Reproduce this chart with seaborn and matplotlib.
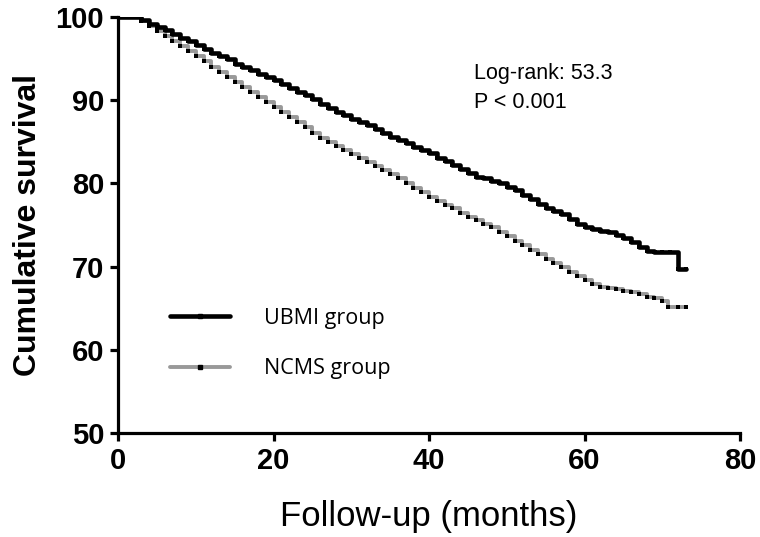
import matplotlib
matplotlib.use("Agg")
import matplotlib.pyplot as plt
import seaborn as sns
import pandas as pd
from matplotlib.lines import Line2D

# ---- data ----
ubmi_months = [0, 3, 4, 5, 6, 7, 8, 9, 10, 11, 12, 13, 14, 15, 16, 17, 18, 19, 20,
               21, 22, 23, 24, 25, 26, 27, 28, 29, 30, 31, 32, 33, 34, 35, 36, 37, 38, 39, 40,
               41, 42, 43, 44, 45, 46, 47, 48, 49, 50, 51, 52, 53, 54, 55, 56, 57, 58, 59, 60,
               61, 62, 63, 64, 65, 66, 67, 68, 69, 70, 71, 72, 73]
ubmi_surv = [100, 99.6, 99.2, 98.8, 98.4, 97.9, 97.5, 97.1, 96.6, 96.2, 95.7, 95.3, 94.9, 94.4,
             94.0, 93.6, 93.2, 92.8, 92.4,
             91.9, 91.5, 91.0, 90.6, 90.1, 89.6, 89.1, 88.6, 88.2, 87.8, 87.4, 87.0, 86.5, 86.0,
             85.6, 85.2, 84.8, 84.4, 84.0, 83.6,
             83.1, 82.7, 82.2, 81.7, 81.2, 80.8, 80.6, 80.3, 80.0, 79.6, 79.2, 78.6, 78.1, 77.5,
             77.1, 76.7, 76.3, 75.7, 75.1, 74.7,
             74.5, 74.3, 74.1, 73.8, 73.4, 72.9, 72.4, 71.9, 71.7, 71.7, 71.7, 69.7, 69.7]

ncms_months = [0, 3, 4, 5, 6, 7, 8, 9, 10, 11, 12, 13, 14, 15, 16, 17, 18, 19, 20,
               21, 22, 23, 24, 25, 26, 27, 28, 29, 30, 31, 32, 33, 34, 35, 36, 37, 38, 39, 40,
               41, 42, 43, 44, 45, 46, 47, 48, 49, 50, 51, 52, 53, 54, 55, 56, 57, 58, 59, 60,
               61, 62, 63, 64, 65, 66, 67, 68, 69, 70, 70.7, 72, 73]
ncms_surv = [100, 99.5, 98.9, 98.3, 97.7, 97.1, 96.5, 95.9, 95.3, 94.7, 94.0, 93.4, 92.8, 92.2,
             91.6, 91.0, 90.4, 89.8, 89.2,
             88.6, 88.0, 87.4, 86.8, 86.1, 85.5, 85.0, 84.5, 84.0, 83.5, 83.0, 82.6, 82.1, 81.6,
             81.1, 80.6, 80.1, 79.5, 79.0, 78.4,
             77.9, 77.4, 77.0, 76.5, 76.0, 75.6, 75.1, 74.7, 74.2, 73.7, 73.1, 72.6, 72.0, 71.5,
             70.9, 70.4, 69.9, 69.4, 68.9, 68.4,
             67.9, 67.6, 67.4, 67.3, 67.1, 66.9, 66.7, 66.4, 66.2, 65.9, 65.1, 65.1, 65.1]

groups = ["UBMI group", "NCMS group"]
x_ticks = [0, 20, 40, 60, 80]
y_ticks = [50, 60, 70, 80, 90, 100]
annotation = ["Log-rank: 53.3", "P < 0.001"]

df = pd.concat([
    pd.DataFrame({"month": ubmi_months, "surv": ubmi_surv, "group": groups[0]}),
    pd.DataFrame({"month": ncms_months, "surv": ncms_surv, "group": groups[1]}),
], ignore_index=True)

sns.set_theme(style="ticks")
plt.rcParams["font.family"] = ["Liberation Sans", "DejaVu Sans"]
plt.rcParams["text.color"] = "black"
plt.rcParams["axes.labelcolor"] = "black"
plt.rcParams["xtick.color"] = "black"
plt.rcParams["ytick.color"] = "black"

fig = plt.figure(figsize=(7.6, 5.37), dpi=100)
ax = fig.add_axes([118 / 760, 1 - 433 / 537, (740 - 118) / 760, (433 - 17) / 537])

palette = {groups[0]: "#000000", groups[1]: "#999999"}
widths = {groups[0]: 3.3, groups[1]: 2.8}

for g in [groups[1], groups[0]]:
    sub = df[df["group"] == g]
    sns.lineplot(data=sub, x="month", y="surv", color=palette[g], lw=widths[g],
                 drawstyle="steps-post", ax=ax, legend=False, estimator=None)
    sns.scatterplot(data=sub.iloc[1:], x="month", y="surv", color="black", marker="s",
                    s=8, linewidth=0, ax=ax, legend=False, zorder=5)

ax.set_xlim(0, 80)
ax.set_ylim(50, 100)
ax.set_xticks(x_ticks)
ax.set_yticks(y_ticks)
for s in ["top", "right"]:
    ax.spines[s].set_visible(False)
for s in ["left", "bottom"]:
    ax.spines[s].set_linewidth(2.3)
    ax.spines[s].set_color("black")
ax.tick_params(axis="both", direction="out", length=6, width=2.3, color="black",
               labelcolor="black", labelsize=21, pad=4)
for lab in ax.get_xticklabels() + ax.get_yticklabels():
    lab.set_fontweight("bold")

ax.set_xlabel("Follow-up (months)", fontsize=25, labelpad=18, color="black")
ax.set_ylabel("Cumulative survival", fontsize=23, fontweight="bold", labelpad=9, color="black")

ax.text(0.572, 0.865, annotation[0], transform=ax.transAxes, fontsize=15.5, va="center", ha="left")
ax.text(0.572, 0.795, annotation[1], transform=ax.transAxes, fontsize=15.5, va="center", ha="left")

handles = [Line2D([0], [0], color=palette[g], lw=widths[g], marker="s", markersize=2.5,
                  markerfacecolor="black", markeredgecolor="black") for g in groups]
leg = ax.legend(handles, groups, loc="center left", bbox_to_anchor=(0.052, 0.215),
                frameon=False, numpoints=1, handlelength=2.8, handletextpad=1.6,
                labelspacing=1.35, prop={"family": "Open Sans", "size": 15.5})

fig.savefig("out.png", dpi=100)
